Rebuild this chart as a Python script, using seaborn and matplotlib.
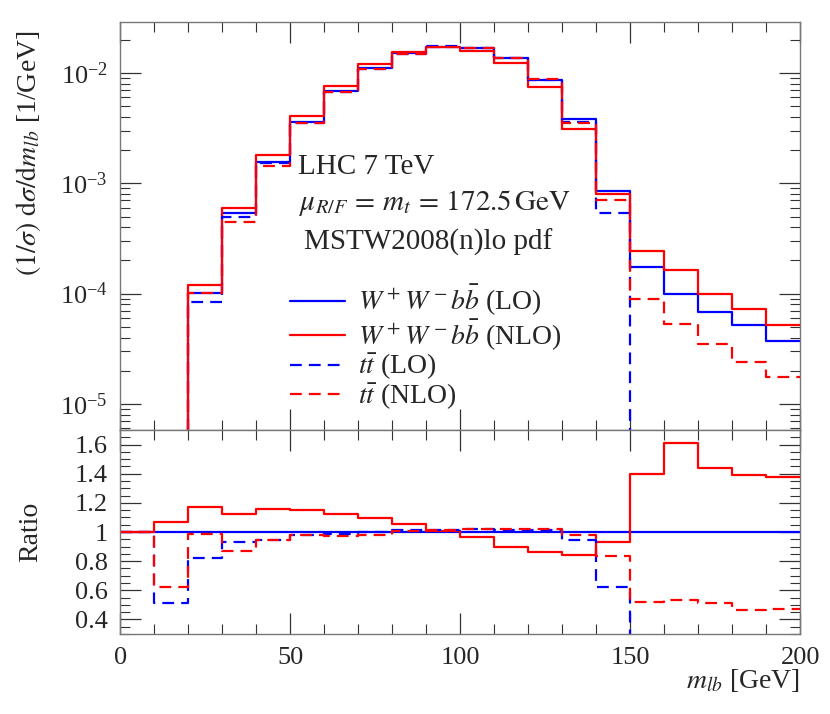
import numpy as np
import matplotlib
matplotlib.use("Agg")
import matplotlib.pyplot as plt
import seaborn as sns
from matplotlib.ticker import FixedLocator, MultipleLocator, FuncFormatter, LogLocator, NullFormatter

# bin edges of m_lb [GeV], 10 GeV bins
m_lb_edges = [0, 10, 20, 30, 40, 50, 60, 70, 80, 90, 100,
              110, 120, 130, 140, 150, 160, 170, 180, 190, 200]

# normalised distributions (1/sigma) dsigma/dm_lb [1/GeV], one value per bin
# (first two bins lie below the plotted range)
wwbb_lo = [1e-6, 1e-6, 1.02e-4, 5.35e-4, 1.57e-3, 3.61e-3, 6.92e-3, 1.10e-2, 1.51e-2, 1.73e-2,
           1.67e-2, 1.36e-2, 8.64e-3, 3.80e-3, 8.57e-4, 1.73e-4, 9.9e-5, 6.85e-5, 5.22e-5, 3.74e-5]
wwbb_nlo = [1e-6, 1e-6, 1.20e-4, 5.93e-4, 1.81e-3, 4.10e-3, 7.62e-3, 1.21e-2, 1.54e-2, 1.72e-2,
            1.59e-2, 1.23e-2, 7.47e-3, 3.13e-3, 8.0e-4, 2.45e-4, 1.63e-4, 9.9e-5, 7.24e-5, 5.19e-5]
tt_lo = [1e-6, 1e-6, 8.45e-5, 4.92e-4, 1.52e-3, 3.50e-3, 6.68e-3, 1.08e-2, 1.49e-2, 1.74e-2,
         1.69e-2, 1.37e-2, 8.64e-3, 3.62e-3, 5.35e-4, 0, 0, 0, 0, 0]
tt_nlo = [1e-6, 1e-6, 1.02e-4, 4.49e-4, 1.44e-3, 3.50e-3, 6.68e-3, 1.08e-2, 1.49e-2, 1.73e-2,
          1.68e-2, 1.37e-2, 8.82e-3, 3.50e-3, 7.06e-4, 8.93e-5, 5.30e-5, 3.49e-5, 2.42e-5, 1.77e-5]

# ratios to W+W-bb (LO)
ratio_wwbb_lo = [1] * 20
ratio_wwbb_nlo = [1, 1.07, 1.17, 1.125, 1.16, 1.15, 1.125, 1.095, 1.055, 1.01,
                  0.965, 0.90, 0.865, 0.84, 0.93, 1.395, 1.61, 1.44, 1.39, 1.38]
ratio_tt_lo = [1, 0.515, 0.823, 0.932, 0.948, 0.977, 0.989, 1.0, 1.014, 1.016,
               1.023, 1.016, 1.014, 0.943, 0.625, 0, 0, 0, 0, 0]
ratio_tt_nlo = [1, 0.625, 0.986, 0.873, 0.948, 0.982, 0.973, 0.977, 1.005, 1.014,
                1.018, 1.02, 1.02, 0.98, 0.834, 0.52, 0.536, 0.511, 0.466, 0.474]

labels = [r"$W^+W^-b\bar{b}$ (LO)", r"$W^+W^-b\bar{b}$ (NLO)",
          r"$t\bar{t}$ (LO)", r"$t\bar{t}$ (NLO)"]

sns.set_style("ticks")
plt.rcParams["font.family"] = ["Liberation Serif", "DejaVu Serif"]
plt.rcParams["mathtext.fontset"] = "stix"
plt.rcParams["font.size"] = 19

BLUE = "#0000ff"
RED = "#ff0000"
DASH = (0, (5.3, 3.2))
styles = [(BLUE, "-"), (RED, "-"), (BLUE, DASH), (RED, DASH)]
TXT = 21


def draw_step(ax, values, color, ls):
    y = list(values) + [values[-1]]
    sns.lineplot(x=m_lb_edges, y=y, ax=ax, drawstyle="steps-post", color=color,
                 linestyle=ls, lw=1.6, estimator=None, sort=False, legend=False)


def style_axes(ax):
    for sp in ax.spines.values():
        sp.set_color("#777777")
        sp.set_linewidth(1.0)
    ax.tick_params(which="both", direction="in", top=True, right=True, color="#333333")
    ax.tick_params(which="major", length=15, width=0.9, pad=9, labelsize=19)
    ax.tick_params(which="minor", length=7.5, width=0.8)
    ax.set_xlim(0, 200)
    ax.xaxis.set_major_locator(FixedLocator([0, 50, 100, 150, 200]))
    ax.xaxis.set_minor_locator(MultipleLocator(10))


fig = plt.figure(figsize=(8.3, 7.14), dpi=100)
ax_top = fig.add_axes([0.1449, 0.3978, 0.8193, 0.5714])
ax_rat = fig.add_axes([0.1449, 0.1120, 0.8193, 0.2857])

# top panel
for vals, (c, ls) in zip([wwbb_lo, wwbb_nlo, tt_lo, tt_nlo], styles):
    draw_step(ax_top, vals, c, ls)
ax_top.set_yscale("log")
ax_top.set_ylim(5.81e-6, 2.897e-2)
style_axes(ax_top)
ax_top.yaxis.set_major_locator(LogLocator(base=10, numticks=10))
ax_top.yaxis.set_minor_locator(LogLocator(base=10, subs=np.arange(2, 10), numticks=20))
ax_top.yaxis.set_minor_formatter(NullFormatter())
ax_top.tick_params(axis="x", labelbottom=False)
ax_top.set_xlabel("")
ax_top.set_ylabel(r"$(1/\sigma)\ \mathrm{d}\sigma/\mathrm{d}m_{lb}$ [1/GeV]", fontsize=20, loc="top")
ax_top.yaxis.set_label_coords(-0.113, 0.98)

ax_top.text(0.361, 0.645, "LHC 7 TeV", transform=ax_top.transAxes, ha="center", va="center", fontsize=TXT)
ax_top.text(0.463, 0.556, r"$\mu_{R/F}\,=\,m_t\,=\,172.5\,\mathrm{GeV}$", transform=ax_top.transAxes,
            ha="center", va="center", fontsize=TXT)
ax_top.text(0.453, 0.461, "MSTW2008(n)lo pdf", transform=ax_top.transAxes, ha="center", va="center", fontsize=TXT)

handles = [plt.Line2D([], [], color=c, ls=ls, lw=1.6) for c, ls in styles]
ax_top.legend(handles, labels, loc="upper left", bbox_to_anchor=(0.249, 0.36), frameon=False,
              fontsize=20, handlelength=2.0, handletextpad=0.45, labelspacing=-0.02,
              borderpad=0, borderaxespad=0)

# ratio panel
for vals, (c, ls) in zip([ratio_wwbb_lo, ratio_wwbb_nlo, ratio_tt_lo, ratio_tt_nlo], styles):
    draw_step(ax_rat, vals, c, ls)
ax_rat.set_ylim(0.30, 1.70)
style_axes(ax_rat)
ax_rat.yaxis.set_major_locator(FixedLocator([0.4, 0.6, 0.8, 1.0, 1.2, 1.4, 1.6]))
ax_rat.yaxis.set_major_formatter(FuncFormatter(lambda v, p: "%g" % round(v, 2)))
ax_rat.yaxis.set_minor_locator(MultipleLocator(0.05))
ax_rat.set_ylabel("Ratio", fontsize=20)
ax_rat.yaxis.set_label_coords(-0.113, 0.5)
ax_rat.set_xlabel(r"$m_{lb}$ [GeV]", fontsize=20, loc="right", labelpad=-1)

fig.savefig("out.png", dpi=100)
plt.close(fig)
